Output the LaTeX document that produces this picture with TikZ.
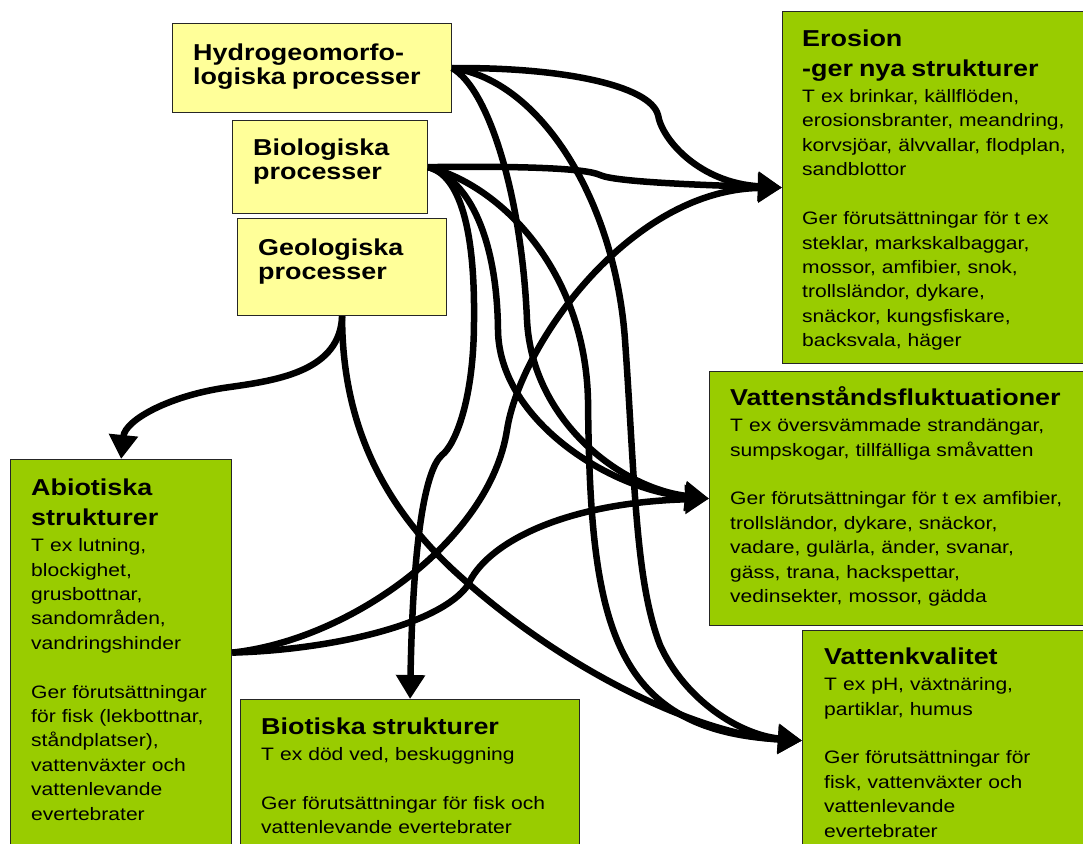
\documentclass[tikz,border=0pt]{standalone}
\usepackage{fontspec}
\setmainfont{Liberation Sans}[FakeStretch=1.17]
\usepackage{tikz}
\usetikzlibrary{arrows.meta,positioning}
\definecolor{procyellow}{HTML}{FFFF99}
\definecolor{structgreen}{HTML}{99CC00}
\newcommand{\hd}{\fontsize{23}{30}\selectfont\bfseries\rule{0pt}{19pt}}

\begin{document}
\begin{tikzpicture}[x=1pt,y=-1pt,
   proc/.style={draw=black!85,line width=1.2pt,fill=procyellow,anchor=north west,inner sep=0pt},
   struct/.style={draw=black!85,line width=1.2pt,fill=structgreen,anchor=north west,inner sep=0pt},
   txt/.style={inner sep=0pt,text width=400pt,align=left,font=\fontsize{18}{24.4}\selectfont},
   flow/.style={line width=6.5pt,-{Triangle[length=24pt,width=28pt]}}]
   \useasboundingbox (0,0) rectangle (1083,843);

   \node[proc, minimum width=279pt, minimum height=89pt] (hyd) at (172,23) {};
   \node[proc, minimum width=195pt, minimum height=93pt] (bio) at (232,120) {};
   \node[proc, minimum width=209pt, minimum height=97pt] (geo) at (237,218) {};
   \node[struct, minimum width=313pt, minimum height=352pt] (ero) at (782,11) {};
   \node[struct, minimum width=386pt, minimum height=254pt] (vat) at (709,371) {};
   \node[struct, minimum width=293pt, minimum height=220pt] (kva) at (802,630) {};
   \node[struct, minimum width=221pt, minimum height=386pt] (abi) at (10,459) {};
   \node[struct, minimum width=339pt, minimum height=161pt] (bit) at (240,699) {};

   \node[txt] (hyd_t) [below right=18pt and 21pt of hyd.north west] {\hd Hydrogeomorfo-\\logiska processer};
   \node[txt] (bio_t) [below right=16pt and 21pt of bio.north west] {\hd Biologiska\\processer};
   \node[txt] (geo_t) [below right=18pt and 21pt of geo.north west] {\hd Geologiska\\processer};
   \node[txt] (ero_t) [below right=16pt and 20pt of ero.north west] {{\hd Erosion\\-ger nya strukturer\par}\vspace{2pt}
      T ex brinkar, källflöden,\\erosionsbranter, meandring,\\korvsjöar, älvvallar, flodplan,\\sandblottor\\[24.4pt]
      Ger förutsättningar för t ex\\steklar, markskalbaggar,\\mossor, amfibier, snok,\\trollsländor, dykare,\\snäckor, kungsfiskare,\\backsvala, häger};
   \node[txt] (vat_t) [below right=15pt and 21pt of vat.north west] {{\hd Vattenståndsfluktuationer\par}\vspace{2pt}
      T ex översvämmade strandängar,\\sumpskogar, tillfälliga småvatten\\[24.4pt]
      Ger förutsättningar för t ex amfibier,\\trollsländor, dykare, snäckor,\\vadare, gulärla, änder, svanar,\\gäss, trana, hackspettar,\\vedinsekter, mossor, gädda};
   \node[txt] (kva_t) [below right=15pt and 22pt of kva.north west] {{\hd Vattenkvalitet\par}\vspace{2pt}
      T ex pH, växtnäring,\\partiklar, humus\\[24.4pt]
      Ger förutsättningar för\\fisk, vattenväxter och\\vattenlevande\\evertebrater};
   \node[txt] (abi_t) [below right=17pt and 21pt of abi.north west] {{\hd Abiotiska\\strukturer\par}\vspace{2pt}
      T ex lutning,\\blockighet,\\grusbottnar,\\sandområden,\\vandringshinder\\[24.4pt]
      Ger förutsättningar\\för fisk (lekbottnar,\\ståndplatser),\\vattenväxter och\\vattenlevande\\evertebrater};
   \node[txt] (bit_t) [below right=16pt and 21pt of bit.north west] {{\hd Biotiska strukturer\par}\vspace{2pt}
      T ex död ved, beskuggning\\[24.4pt]
      Ger förutsättningar för fisk och\\vattenlevande evertebrater};

   \draw[flow] (hyd.east) .. controls (560,67) and (650,85) .. (658,115) .. controls (662,140) and (700,183) .. (ero.west);
   \draw[flow] (hyd.east) .. controls (490,90) and (522,200) .. (527,320) .. controls (532,420) and (620,488) .. (vat.west);
   \draw[flow] (hyd.east) .. controls (540,80) and (615,200) .. (625,340) .. controls (635,480) and (635,580) .. (660,645)
      .. controls (685,700) and (740,735) .. (kva.west);
   \draw[flow] (bio.east) .. controls (520,166) and (585,168) .. (600,175) .. controls (615,182) and (700,185) .. (ero.west);
   \draw[flow] (bio.east) .. controls (460,175) and (475,230) .. (474,320) .. controls (474,400) and (455,445) .. (442,455)
      .. controls (425,470) and (413,540) .. (bit.north);
   \draw[flow] (bio.east) .. controls (470,180) and (497,240) .. (498,330) .. controls (499,420) and (610,490) .. (vat.west);
   \draw[flow] (bio.east) .. controls (500,185) and (585,270) .. (588,400) .. controls (590,620) and (610,730) .. (kva.west);
   \draw[flow] (geo.south) .. controls (340,370) and (280,380) .. (230,387) .. controls (170,395) and (125,420) .. (abi.north);
   \draw[flow] (geo.south) .. controls (342,420) and (380,500) .. (450,567) .. controls (560,670) and (700,735) .. (kva.west);
   \draw[flow] (abi.east) .. controls (350,640) and (490,540) .. (507,430) .. controls (520,345) and (630,190) .. (ero.west);
   \draw[flow] (abi.east) .. controls (330,650) and (440,625) .. (468,585) .. controls (485,545) and (560,503) .. (vat.west);
\end{tikzpicture}
\end{document}
